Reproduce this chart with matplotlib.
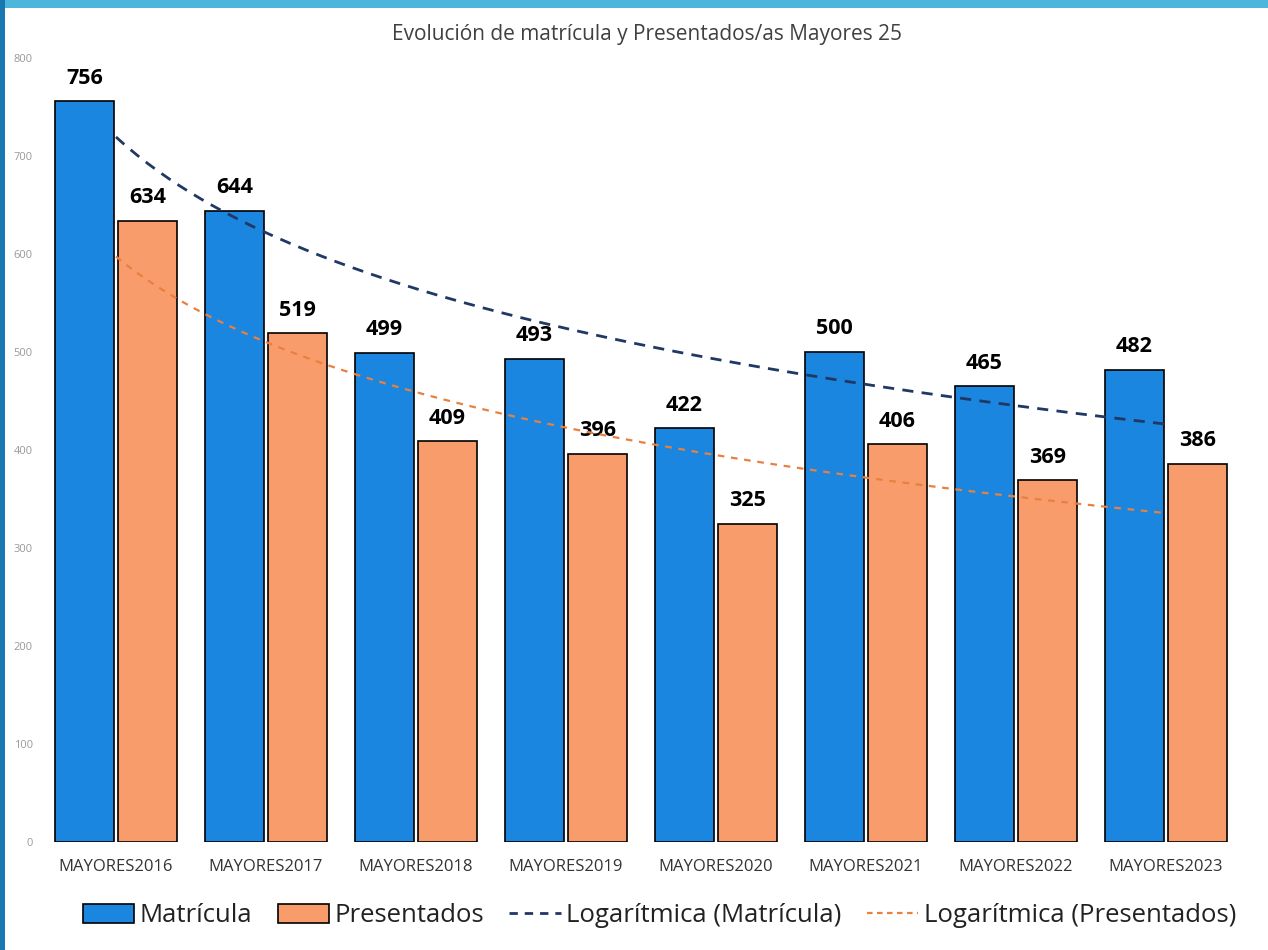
import matplotlib.pyplot as plt
import numpy as np
from matplotlib.patches import Rectangle
from matplotlib.lines import Line2D

plt.rcParams['font.family'] = ['Open Sans', 'DejaVu Sans']

# data
categories = ["MAYORES2016", "MAYORES2017", "MAYORES2018", "MAYORES2019",
              "MAYORES2020", "MAYORES2021", "MAYORES2022", "MAYORES2023"]
matricula = [756, 644, 499, 493, 422, 500, 465, 482]
presentados = [634, 519, 409, 396, 325, 406, 369, 386]
yticks = [0, 100, 200, 300, 400, 500, 600, 700, 800]

BLUE = "#1a86e0"
ORANGE = "#f99c6c"
TREND_BLUE = "#1f3864"
TREND_ORANGE = "#e8803f"

fig = plt.figure(figsize=(12.68, 9.5), dpi=100)
ax = fig.add_axes([41 / 1268, 108 / 950, 1200 / 1268, 784 / 950])

x = np.arange(len(categories))
w = 0.39
ax.bar(x - 0.21, matricula, w, color=BLUE, edgecolor="black", linewidth=1.2, zorder=2)
ax.bar(x + 0.21, presentados, w, color=ORANGE, edgecolor="black", linewidth=1.2, zorder=2)

for xi, v in zip(x - 0.21, matricula):
    ax.annotate(str(v), (xi, v), xytext=(0, 9), textcoords="offset points",
                ha="center", va="bottom", fontsize=15.5, fontweight="bold", color="black")
for xi, v in zip(x + 0.21, presentados):
    ax.annotate(str(v), (xi, v), xytext=(0, 9), textcoords="offset points",
                ha="center", va="bottom", fontsize=15.5, fontweight="bold", color="black")

# logarithmic trendlines (Excel style: y = a*ln(x) + b, x = 1..n)
lx = np.log(x + 1)
a_m, b_m = np.polyfit(lx, matricula, 1)
a_p, b_p = np.polyfit(lx, presentados, 1)
xs = np.linspace(0, len(categories) - 1, 200)
ax.plot(xs, a_m * np.log(xs + 1) + b_m, color=TREND_BLUE, lw=2, ls=(0, (4, 3)), zorder=3)
ax.plot(xs, a_p * np.log(xs + 1) + b_p, color=TREND_ORANGE, lw=1.6, ls=(0, (3, 3)), zorder=3)

ax.set_xlim(-0.5, len(categories) - 0.5)
ax.set_ylim(0, 800)
ax.set_yticks(yticks)
ax.set_yticklabels([str(t) for t in yticks], fontsize=8, color="#999999")
ax.set_xticks(x)
ax.set_xticklabels(categories, fontsize=12, color="#333333")
ax.tick_params(axis="both", length=0)
ax.tick_params(axis="x", pad=12)
ax.tick_params(axis="y", pad=6)
for s in ax.spines.values():
    s.set_visible(False)

fig.text(0.51, 0.964, "Evolución de matrícula y Presentados/as Mayores 25",
         ha="center", va="center", fontsize=15, color="#404040")

handles = [
    Rectangle((0, 0), 1, 1, facecolor=BLUE, edgecolor="black", linewidth=1.2),
    Rectangle((0, 0), 1, 1, facecolor=ORANGE, edgecolor="black", linewidth=1.2),
    Line2D([], [], color=TREND_BLUE, lw=2, ls=(0, (3, 2.5))),
    Line2D([], [], color=TREND_ORANGE, lw=1.6, ls=(0, (2.5, 2))),
]
labels = ["Matrícula", "Presentados", "Logarítmica (Matrícula)", "Logarítmica (Presentados)"]
fig.legend(handles, labels, loc="center", bbox_to_anchor=(0.52, 0.036), ncol=4,
           frameon=False, fontsize=18.5, handlelength=2.0, handleheight=0.8,
           handletextpad=0.2, columnspacing=1.0, labelcolor="#222222")

# scan border bands
fig.patches.append(Rectangle((0, 1 - 8 / 950), 1, 8 / 950, transform=fig.transFigure,
                             facecolor="#4db6dc", edgecolor="none", zorder=10))
fig.patches.append(Rectangle((0, 0), 5 / 1268, 1, transform=fig.transFigure,
                             facecolor="#1a78b0", edgecolor="none", zorder=10))

fig.savefig("out.png", dpi=100)
